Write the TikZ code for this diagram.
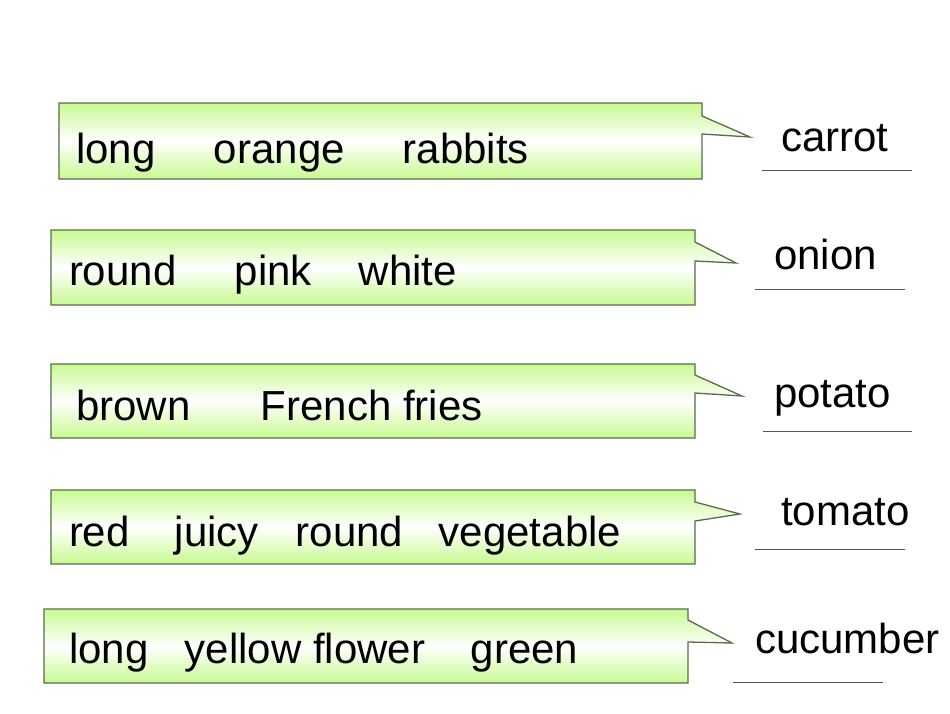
\documentclass[tikz,border=0pt]{standalone}
\usepackage{fontspec}
\setmainfont{Liberation Sans}
\definecolor{boxgreen}{RGB}{200,250,145}
\definecolor{boxedge}{RGB}{90,106,76}
\definecolor{ruleline}{RGB}{85,85,85}
\tikzset{
  callout/.style={draw=boxedge, line width=1.3pt, line join=miter, top color=boxgreen, bottom color=boxgreen, middle color=white},
  words/.style={anchor=base west, inner sep=0pt, outer sep=0pt, font=\fontsize{42}{50}\selectfont},
  answer/.style={draw=ruleline, line width=1pt}
}
\begin{document}
\begin{tikzpicture}[x=1pt,y=-1pt]
\useasboundingbox (0,0) rectangle (950,713);
% callouts
\path[callout] (59,103) -- (702,103) -- (702,116) -- (750,137) -- (702,134) -- (702,179) -- (59,179) -- cycle;
\path[callout] (51,230) -- (695,230) -- (695,242) -- (736,263) -- (695,261) -- (695,305) -- (51,305) -- cycle;
\path[callout] (51,364) -- (695,364) -- (695,375) -- (742,396) -- (695,393) -- (695,438) -- (51,438) -- cycle;
\path[callout] (51,490) -- (695,490) -- (695,502) -- (740,514) -- (695,521) -- (695,564) -- (51,564) -- cycle;
\path[callout] (44,609) -- (688,609) -- (688,620) -- (732,643) -- (688,642) -- (688,683) -- (44,683) -- cycle;
% clue texts
\node[words] (t1) at (76,163) {\rlap{long}\hspace*{138pt}\rlap{orange}\hspace*{189pt}rabbits};
\node[words] (t2) at (69,285) {\rlap{round}\hspace*{166pt}\rlap{pink}\hspace*{124pt}white};
\node[words] (t3) at (76,420) {\rlap{brown}\hspace*{185pt}French fries};
\node[words] (t4) at (69,546) {\rlap{red}\hspace*{106pt}\rlap{juicy}\hspace*{121pt}\rlap{round}\hspace*{143pt}vegetable};
\node[words] (t5) at (69,663) {\rlap{long}\hspace*{116pt}\rlap{yellow flower}\hspace*{286pt}green};
% answers
\node[words] (a1) at (781,151) {carrot};
\node[words] (a2) at (774,269) {onion};
\node[words] (a3) at (774,407) {potato};
\node[words] (a4) at (781,525) {tomato};
\node[words] (a5) at (755,653) {cucumber};
% answer lines
\coordinate (l1a) at (762,170); \coordinate (l1b) at (912,170);
\coordinate (l2a) at (755,289); \coordinate (l2b) at (905,289);
\coordinate (l3a) at (763,431); \coordinate (l3b) at (912,431);
\coordinate (l4a) at (755,549); \coordinate (l4b) at (905,549);
\coordinate (l5a) at (733,682); \coordinate (l5b) at (883,682);
\draw[answer] (l1a) -- (l1b);
\draw[answer] (l2a) -- (l2b);
\draw[answer] (l3a) -- (l3b);
\draw[answer] (l4a) -- (l4b);
\draw[answer] (l5a) -- (l5b);
\end{tikzpicture}
\end{document}
